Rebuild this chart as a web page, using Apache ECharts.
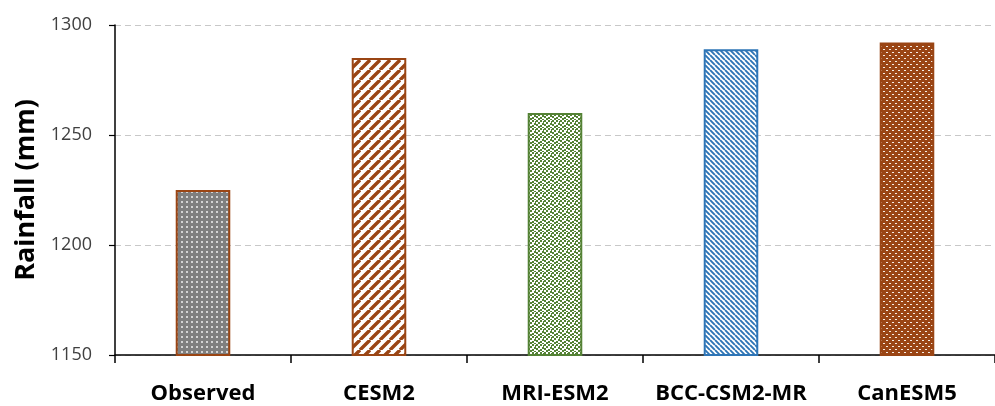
<!DOCTYPE html>
<html>
<head>
<meta charset="utf-8">
<script src="https://cdn.jsdelivr.net/npm/echarts@6/dist/echarts.min.js"></script>
<style>
  html, body { margin: 0; padding: 0; background: #fff; }
  #chart { width: 995px; height: 406px; }
</style>
</head>
<body>
<div id="chart"></div>
<script>
// Annual rainfall: observation vs. CMIP6 models
const categories = ['Observed', 'CESM2', 'MRI-ESM2', 'BCC-CSM2-MR', 'CanESM5'];
const rainfall = [1225, 1285, 1260, 1289, 1292];
const yTicks = { min: 1150, max: 1300, step: 50 };

const BROWN = '#9a4514';
const GREEN = '#548235';
const BLUE = '#2e75b6';

function tile(w, h, draw) {
  const c = document.createElement('canvas');
  c.width = w; c.height = h;
  const ctx = c.getContext('2d');
  draw(ctx, w, h);
  return { image: c, repeat: 'repeat' };
}

// grey fill with light dots
const patObserved = tile(5, 5, (ctx) => {
  ctx.fillStyle = '#7f7f7f'; ctx.fillRect(0, 0, 5, 5);
  ctx.fillStyle = '#d4d4d4'; ctx.fillRect(1, 1, 2, 2);
});
// wide forward diagonal stripes
const patWideUp = tile(10, 10, (ctx) => {
  ctx.fillStyle = '#fff'; ctx.fillRect(0, 0, 10, 10);
  ctx.strokeStyle = BROWN; ctx.lineWidth = 3.4;
  ctx.beginPath();
  for (let k = -10; k <= 10; k += 10) { ctx.moveTo(k, 10); ctx.lineTo(k + 10, 0); }
  ctx.stroke();
});
// small confetti squares
const patConfetti = tile(8, 8, (ctx) => {
  ctx.fillStyle = '#fff'; ctx.fillRect(0, 0, 8, 8);
  ctx.fillStyle = GREEN;
  [[0,0],[4,0],[2,2],[6,3],[0,4],[4,5],[2,6],[6,7],[7,1]].forEach(([x, y]) => ctx.fillRect(x, y, 2, 2));
});
// narrow backward diagonal stripes
const patNarrowDown = tile(5, 5, (ctx) => {
  ctx.fillStyle = '#fff'; ctx.fillRect(0, 0, 5, 5);
  ctx.strokeStyle = BLUE; ctx.lineWidth = 1.9;
  ctx.beginPath();
  for (let k = -5; k <= 5; k += 5) { ctx.moveTo(k, 0); ctx.lineTo(k + 5, 5); }
  ctx.stroke();
});
// brown fill with small light bricks
const patBrick = tile(6, 6, (ctx) => {
  ctx.fillStyle = BROWN; ctx.fillRect(0, 0, 6, 6);
  ctx.fillStyle = '#f7ece4';
  ctx.fillRect(1, 1, 2, 1);
  ctx.fillRect(4, 4, 2, 1);
});

const styles = [
  { color: patObserved, borderColor: BROWN },
  { color: patWideUp, borderColor: BROWN },
  { color: patConfetti, borderColor: GREEN },
  { color: patNarrowDown, borderColor: BLUE },
  { color: patBrick, borderColor: BROWN }
];

const chart = echarts.init(document.getElementById('chart'), null, { renderer: 'canvas' });
chart.setOption({
  animation: false,
  grid: { left: 115, top: 25, width: 886, height: 330, containLabel: false },
  xAxis: {
    type: 'category',
    data: categories,
    axisLine: { lineStyle: { color: '#000', width: 1.5 } },
    axisTick: { show: true, interval: 0, length: 8, lineStyle: { color: '#000', width: 1.5 } },
    axisLabel: {
      interval: 0,
      hideOverlap: false,
      margin: 28,
      color: '#000',
      fontFamily: 'Open Sans',
      fontWeight: 'bold',
      fontSize: 22
    }
  },
  yAxis: {
    type: 'value',
    min: yTicks.min,
    max: yTicks.max,
    interval: yTicks.step,
    name: 'Rainfall (mm)',
    nameLocation: 'middle',
    nameGap: 72,
    nameTextStyle: { fontFamily: 'Open Sans', fontWeight: 'bold', fontSize: 27, color: '#000' },
    axisLine: { show: true, lineStyle: { color: '#000', width: 1.5 } },
    axisTick: { show: true, length: 6, lineStyle: { color: '#000', width: 1.2 } },
    axisLabel: {
      margin: 23,
      color: '#404040',
      fontFamily: 'Open Sans',
      fontSize: 18,
      formatter: (v) => String(v)
    },
    splitLine: { show: true, lineStyle: { color: '#c8c8c8', type: [6, 4], width: 1.2 } }
  },
  series: [{
    type: 'bar',
    barWidth: '31%',
    data: rainfall.map((v, i) => ({
      value: v,
      itemStyle: { color: styles[i].color, borderColor: styles[i].borderColor, borderWidth: 2 }
    }))
  }]
});
</script>
</body>
</html>
